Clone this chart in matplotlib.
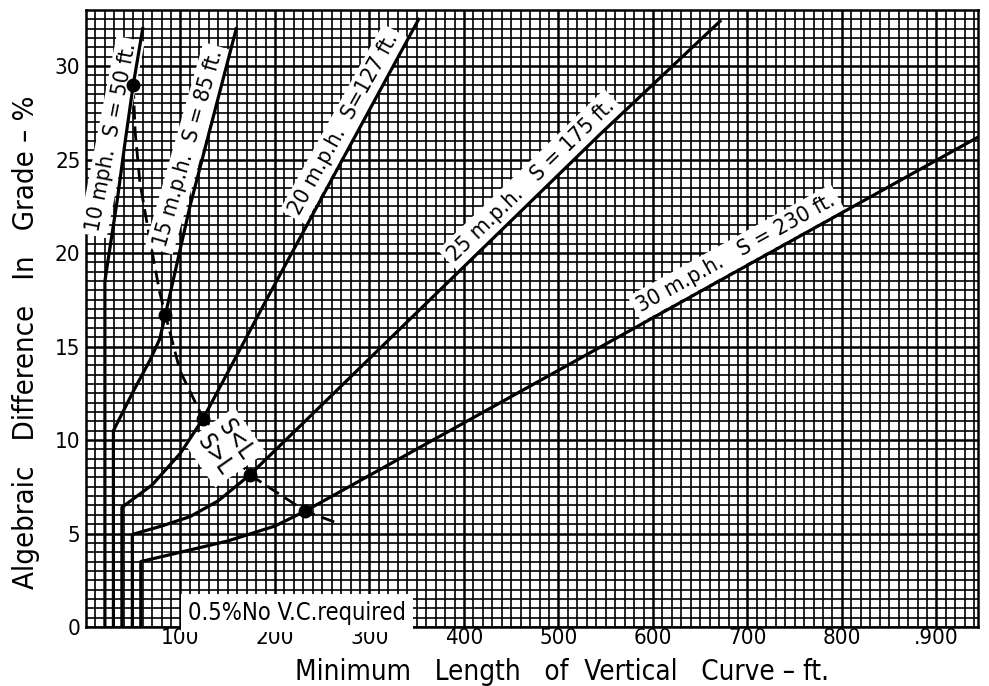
import numpy as np
import matplotlib
matplotlib.use("Agg")
import matplotlib.pyplot as plt

plt.rcParams['font.family'] = ['DejaVu Sans']
plt.rcParams['font.stretch'] = 'condensed'

# Curve data: length of vertical curve (ft) vs algebraic difference (%)
L_10 = [20, 20, 27.5, 33, 41, 50, 60]
A_10 = [0, 18.5, 21.0, 22.8, 25.8, 29.0, 32.0]

L_15 = [29, 29, 50, 68, 78, 84, 110, 159]
A_15 = [0, 10.5, 12.6, 14.3, 15.4, 16.7, 22.5, 32.0]

L_20 = [38, 38, 70, 100, 124, 192, 352]
A_20 = [0, 6.4, 7.6, 9.3, 11.15, 17.6, 32.5]

L_25 = [49, 49, 80, 110, 140, 173.5, 544, 671]
A_25 = [0, 4.95, 5.4, 5.9, 6.75, 8.14, 26.35, 32.4]

L_30 = [58, 58, 100, 150, 200, 232, 944]
A_30 = [0, 3.5, 4.0, 4.6, 5.4, 6.2, 26.2]

# L = S boundary (dashed) and the marked points on it
L_eq = [50, 52, 57, 68, 78, 84, 99.5, 124, 173.5, 232, 269]
A_eq = [29.0, 26.5, 23.8, 20.6, 17.9, 16.7, 13.7, 11.15, 8.14, 6.2, 5.5]
L_dots = [50, 84, 124, 173.5, 232]
A_dots = [29.0, 16.7, 11.15, 8.14, 6.2]

x_ticks = [100, 200, 300, 400, 500, 600, 700, 800, 900]
x_labels = ["100", "200", "300", "400", "500", "600", "700", "800", ".900"]
y_ticks = [0, 5, 10, 15, 20, 25, 30]

curve_labels = ["10 mph.  S = 50 ft.", "15 m.p.h.  S = 85 ft.", "20 m.p.h.  S=127 ft.",
                "25 m.p.h.   S = 175 ft.", "30 m.p.h.   S = 230 ft."]
label_L = [27, 108, 273, 471, 688]
label_A = [26.2, 25.6, 26.9, 23.9, 20.0]
label_rot = [79, 74, 61, 44, 29]

fig = plt.figure(figsize=(9.89, 6.86), dpi=100)
ax = fig.add_axes([86 / 989, 1 - 627 / 686, 892 / 989, 617 / 686])

# graph paper grid
ax.set_xticks(x_ticks)
ax.set_xticklabels(x_labels)
ax.set_yticks(y_ticks)
ax.set_xticks(np.arange(0, 950, 10), minor=True)
ax.set_yticks(np.arange(0, 33.5, 0.5), minor=True)
ax.grid(which='minor', color='black', linewidth=1.2)
ax.grid(which='major', color='black', linewidth=1.8)
ax.set_axisbelow(True)
ax.tick_params(which='both', length=0, labelsize=16)
ax.tick_params(axis='x', pad=1)
ax.tick_params(axis='y', pad=4)
for sp in ax.spines.values():
    sp.set_linewidth(1.8)

for L, A in [(L_10, A_10), (L_15, A_15), (L_20, A_20), (L_25, A_25), (L_30, A_30)]:
    ax.plot(L, A, color='black', linewidth=2.3, zorder=3, solid_joinstyle='round')

ax.plot(L_eq, A_eq, color='black', linewidth=2.0, linestyle=(0, (5, 2.5)), zorder=2.5)
ax.plot(L_dots, A_dots, 'o', color='black', markersize=9, zorder=4)

for txt, lx, ly, r in zip(curve_labels, label_L, label_A, label_rot):
    ax.text(lx, ly, txt, rotation=r, rotation_mode='anchor', ha='center', va='center',
            fontsize=16, zorder=2.6,
            bbox=dict(facecolor='white', edgecolor='none', boxstyle='square,pad=0.2'))

ax.text(147, 9.6, "S<L\nS>L", rotation=-55, ha='center', va='center', fontsize=17,
        linespacing=1.1, zorder=2.7,
        bbox=dict(facecolor='white', edgecolor='none', boxstyle='square,pad=0.25'))

ax.text(108, 0.75, "0.5%No V.C.required", ha='left', va='center', fontsize=17, zorder=2.7,
        bbox=dict(facecolor='white', edgecolor='none', boxstyle='square,pad=0.3'))

ax.set_xlim(0, 944)
ax.set_ylim(0, 33)
ax.set_xlabel("Minimum   Length   of  Vertical   Curve – ft.", fontsize=20)
ax.set_ylabel("Algebraic   Difference   In   Grade – %", fontsize=21)
ax.xaxis.set_label_coords(0.534, -0.05)
ax.yaxis.set_label_coords(-0.052, 0.462)

fig.savefig("out.png", dpi=100)
